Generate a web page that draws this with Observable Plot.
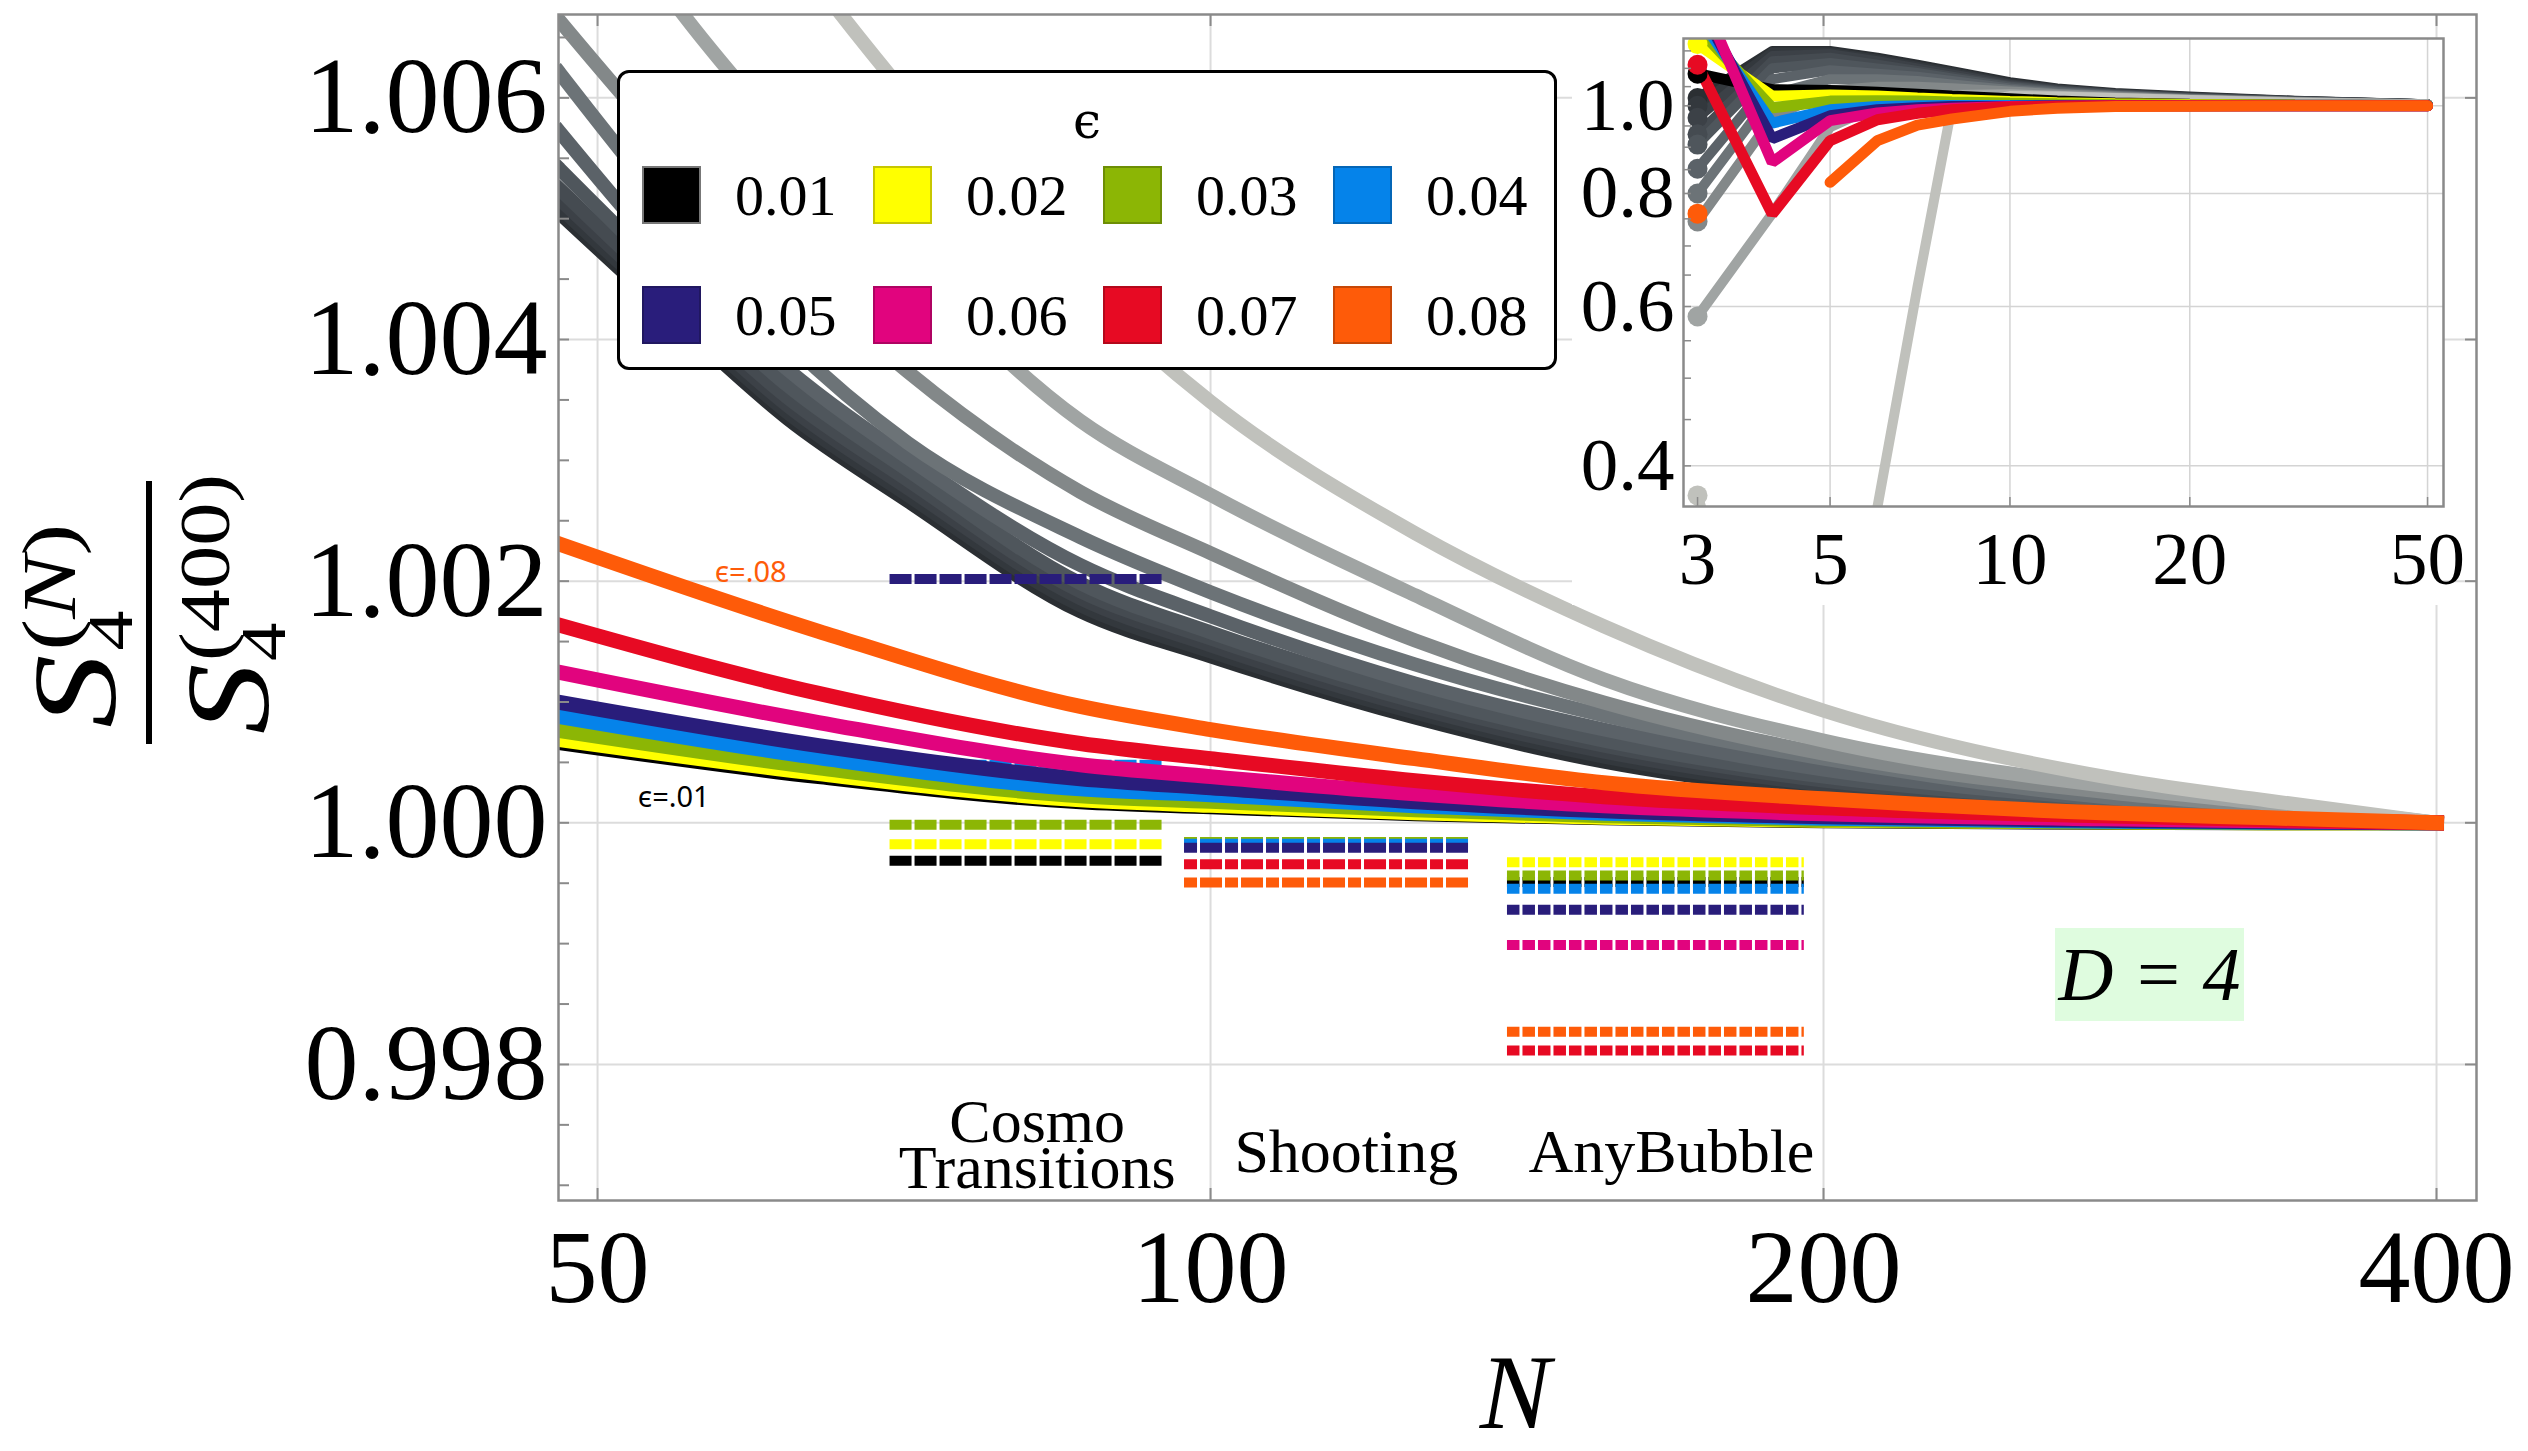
<!DOCTYPE html>
<html><head><meta charset="utf-8">
<script src="https://cdn.jsdelivr.net/npm/d3@7"></script>
<script src="https://cdn.jsdelivr.net/npm/@observablehq/plot@0.6"></script>
<style>
html,body{margin:0;padding:0;background:#fff;}
#wrap{position:relative;width:2528px;height:1451px;overflow:hidden;background:#fff;font-family:"Liberation Serif","Times New Roman",serif;}
#wrap svg{position:absolute;display:block;}
.legend{position:absolute;left:617px;top:70px;width:934px;height:294px;border:3px solid #000;border-radius:12px;background:#fff;}
.legend .ttl{position:absolute;left:0;width:100%;text-align:center;top:18px;font-size:50px;line-height:60px;font-family:"DejaVu Serif","Liberation Serif",serif;}
.legend .sw{position:absolute;width:55px;height:54px;border:2px solid #777;}
.legend .lb{position:absolute;font-size:58px;line-height:58px;}
.dbox{position:absolute;left:2055px;top:928px;width:189px;height:93px;background:#dffcdf;font-style:italic;font-size:76px;line-height:93px;text-align:center;}
.insetbg{position:absolute;left:1572px;top:38px;width:871px;height:567px;background:#fff;}
</style></head>
<body><div id="wrap"></div>
<script>
// ---------- DATA ----------
const epsNames = ["0.01","0.02","0.03","0.04","0.05","0.06","0.07","0.08"];
const epsColors = ["#000000","#FFFF00","#8CB605","#0583EA","#291D7B","#E1047E","#E70A23","#FE5B09"];

// main plot, colored curves  S4(N)/S4(400)
const mainN = [47.9, 64.2, 86.3, 100, 126, 156, 200, 274, 331, 400];
const main001 = [1.000664, 1.000382, 1.000174, 1.000133, 1.000075, 1.000041, 1.000017, 1.000004, 1.0, 1.0];
const main002 = [1.000689, 1.000407, 1.000191, 1.000145, 1.000083, 1.000046, 1.000021, 1.000008, 1.0, 1.0];
const main003 = [1.000763, 1.000456, 1.000224, 1.000178, 1.000108, 1.000058, 1.000025, 1.000008, 1.0, 1.0];
const main004 = [1.000880, 1.000539, 1.000282, 1.000232, 1.000141, 1.000079, 1.000037, 1.000012, 1.000004, 1.0];
const main005 = [1.000996, 1.000639, 1.000365, 1.000290, 1.000174, 1.000100, 1.000050, 1.000021, 1.000008, 1.0];
const main006 = [1.001245, 1.000830, 1.000481, 1.000382, 1.000241, 1.000141, 1.000075, 1.000033, 1.000017, 1.0];
const main007 = [1.001635, 1.001071, 1.000656, 1.000531, 1.000349, 1.000216, 1.000124, 1.000058, 1.000025, 1.0];
const main008 = [1.002307, 1.001585, 1.000963, 1.000772, 1.000531, 1.000332, 1.000199, 1.000083, 1.000041, 1.0];
const mainColored = [main001, main002, main003, main004, main005, main006, main007, main008];

// main plot, gray curves (darkest -> lightest)
const grayN = [47.9, 55, 62, 71, 86.3, 100, 126, 156, 200, 280, 331, 400];
const gray1  = [1.005046, 1.004116, 1.003344, 1.002664, 1.001751, 1.001378, 1.000871, 1.000506, 1.000257, 1.000133, 1.000066, 1.0];
const gray2  = [1.005095, 1.004166, 1.003394, 1.002714, 1.001801, 1.001419, 1.000913, 1.000548, 1.000282, 1.000141, 1.000071, 1.0];
const gray3  = [1.005162, 1.004224, 1.003452, 1.002772, 1.001859, 1.001469, 1.000954, 1.000589, 1.000315, 1.000149, 1.000075, 1.0];
const gray4  = [1.005245, 1.004290, 1.003519, 1.002838, 1.001917, 1.001527, 1.001004, 1.000639, 1.000349, 1.000158, 1.000079, 1.0];
const gray5  = [1.005411, 1.004415, 1.003618, 1.002921, 1.001983, 1.001577, 1.001054, 1.000680, 1.000382, 1.000166, 1.000083, 1.0];
const gray6  = [1.005718, 1.004556, 1.003751, 1.003021, 1.002133, 1.001710, 1.001154, 1.000772, 1.000440, 1.000183, 1.000091, 1.0];
const gray7  = [1.006207, 1.004946, 1.003983, 1.003145, 1.002365, 1.001909, 1.001311, 1.000888, 1.000531, 1.000199, 1.000108, 1.0];
const gray8  = [1.006639, 1.005477, 1.004631, 1.003734, 1.002739, 1.002232, 1.001510, 1.000996, 1.000573, 1.000241, 1.000133, 1.0];
const gray9  = [1.008149, 1.006705, 1.005660, 1.004622, 1.003328, 1.002714, 1.001884, 1.001187, 1.000680, 1.000290, 1.000158, 1.0];
const gray10 = [1.010124, 1.008531, 1.007270, 1.006008, 1.004432, 1.003485, 1.002398, 1.001627, 1.000929, 1.000357, 1.000183, 1.0];
const grayMain = [gray1, gray2, gray3, gray4, gray5, gray6, gray7, gray8, gray9, gray10];
const grayColors = ["#2B2F33","#33383D","#3C4147","#454B51","#4F565C","#5B6268","#6C7377","#838889","#A0A4A3","#C0C1BC"];

// reference values of other codes (dashed)
const cosmoRange = [69.6, 94.7];
const cosmoEps  = ["0.01","0.02","0.03","0.04","0.05"];
const cosmoVals = [0.999685, 0.999823, 0.999983, 1.000481, 1.002017];
const shootRange = [97.1, 134.0];
const shootEps  = ["0.03","0.04","0.05","0.07","0.08"];
const shootVals = [0.999842, 0.999826, 0.999793, 0.999657, 0.999505];
const anyRange = [139.9, 195.7];
const anyEps  = ["0.01","0.02","0.03","0.04","0.05","0.06","0.07","0.08"];
const anyVals = [0.999510, 0.999674, 0.999563, 0.999455, 0.999281, 0.998988, 0.998116, 0.998271];

const methodText = ["Cosmo\nTransitions","Shooting","AnyBubble"];
const methodN = [82.2, 116.6, 168.4];
const methodV = [0.997288, 0.997230, 0.997230];

const tagText = ["\u03f5=.08", "\u03f5=.01"];
const tagN = [59.45, 54.5];
const tagV = [1.002071, 1.000209];
const tagColor = ["#FE5B09", "#000000"];

const xTickVals = [50, 100, 200, 400];
const yTickVals = [0.998, 1.000, 1.002, 1.004, 1.006];
const yMinorTicks = [0.997,0.9975,0.998,0.9985,0.999,0.9995,1.0,1.0005,1.001,1.0015,1.002,1.0025,1.003,1.0035,1.004,1.0045,1.005,1.0055,1.006,1.0065];

// inset
const insetN = [3, 4, 5, 6, 7, 8, 10, 12, 15, 20, 30, 50];
const ins001 = [1.085, 1.042, 1.04, 1.035, 1.03, 1.025, 1.018, 1.012, 1.007, 1.004, 1.002, 1.001];
const ins002 = [1.17, 1.025, 1.028, 1.025, 1.02, 1.016, 1.011, 1.008, 1.005, 1.003, 1.0015, 1.0007];
const ins003 = [1.22, 0.995, 1.012, 1.013, 1.012, 1.01, 1.007, 1.005, 1.003, 1.002, 1.001, 1.0005];
const ins004 = [1.26, 0.957, 0.99, 0.998, 1.0, 1.001, 1.001, 1.001, 1.0005, 1.0003, 1.0002, 1.0001];
const ins005 = [1.30, 0.92, 0.975, 0.99, 0.995, 0.998, 0.999, 1.0, 1.0, 1.0, 1.0, 1.0];
const ins006 = [1.35, 0.866, 0.963, 0.982, 0.99, 0.994, 0.998, 0.999, 1.0, 1.0, 1.0, 1.0];
const ins007 = [1.11, 0.759, 0.915, 0.965, 0.981, 0.99, 0.997, 0.999, 1.0, 1.0, 1.0, 1.0];
const ins008 = [0.76, NaN, 0.823, 0.915, 0.952, 0.967, 0.986, 0.994, 0.998, 0.999, 1.0, 1.0];
const insColored = [ins001, ins002, ins003, ins004, ins005, ins006, ins007, ins008];

const insG1  = [1.02, 1.15, 1.15, 1.13, 1.11, 1.092, 1.062, 1.045, 1.033, 1.024, 1.013, 1.004];
const insG2  = [1.00, 1.145, 1.145, 1.125, 1.105, 1.088, 1.058, 1.043, 1.031, 1.022, 1.012, 1.004];
const insG3  = [0.97, 1.135, 1.14, 1.12, 1.10, 1.083, 1.055, 1.041, 1.03, 1.021, 1.012, 1.004];
const insG4  = [0.93, 1.12, 1.13, 1.11, 1.093, 1.077, 1.052, 1.039, 1.029, 1.02, 1.011, 1.004];
const insG5  = [0.906, 1.10, 1.115, 1.10, 1.087, 1.072, 1.049, 1.037, 1.028, 1.019, 1.011, 1.004];
const insG6  = [0.852, 1.07, 1.095, 1.085, 1.077, 1.065, 1.045, 1.035, 1.026, 1.018, 1.01, 1.004];
const insG7  = [0.80, 1.03, 1.07, 1.07, 1.065, 1.056, 1.041, 1.032, 1.025, 1.017, 1.01, 1.003];
const insG8  = [0.745, 0.97, 1.04, 1.05, 1.05, 1.046, 1.037, 1.03, 1.023, 1.016, 1.009, 1.003];
const insG9  = [0.585, 0.76, 0.947, 1.0, 1.022, 1.028, 1.03, 1.026, 1.021, 1.015, 1.009, 1.003];
const insG10 = [0.371, 0.2, 0.2, 0.36, 0.63, 1.0, 1.025, 1.024, 1.02, 1.015, 1.008, 1.003];
const insGray = [insG1, insG2, insG3, insG4, insG5, insG6, insG7, insG8, insG9, insG10];

const insXTicks = [3, 5, 10, 20, 50];
const insXGrid = [5, 10, 20, 50];
const insYTicks = [0.4, 0.6, 0.8, 1.0];
const insYMinor = [0.4,0.45,0.5,0.55,0.6,0.65,0.7,0.75,0.8,0.85,0.9,0.95,1.0,1.05,1.1,1.15];

// ---------- BUILD ----------
const colorOf = e => epsColors[epsNames.indexOf(e)];
const rows = (N, vals) => N.map((n, i) => ({N: n, v: vals[i]}));
const dashRows = (eps, vals, rng) => eps.map((e, i) => ({v: vals[i], n1: rng[0], n2: rng[1], color: colorOf(e)}));

const wrap = document.getElementById("wrap");
const FW = 2476 - 558, FH = 1200 - 14;

const mainMarks = [
  Plot.gridX(xTickVals, {stroke: "#dcdcdc", strokeOpacity: 1, strokeWidth: 2}),
  Plot.gridY(yTickVals, {stroke: "#dcdcdc", strokeOpacity: 1, strokeWidth: 2}),
  ...grayMain.map((vals, i) => Plot.line(rows(grayN, vals), {x: "N", y: "v", stroke: grayColors[i], strokeWidth: 14, curve: "monotone-x", strokeLinecap: "square", clip: true})),
  Plot.ruleY(dashRows(cosmoEps, cosmoVals, cosmoRange), {y: "v", x1: "n1", x2: "n2", stroke: "color", strokeWidth: 10, strokeDasharray: "22,3"}),
  Plot.ruleY(dashRows(shootEps, shootVals, shootRange), {y: "v", x1: "n1", x2: "n2", stroke: "color", strokeWidth: 10, strokeDasharray: "13,3,22,3"}),
  Plot.ruleY(dashRows(anyEps, anyVals, anyRange), {y: "v", x1: "n1", x2: "n2", stroke: "color", strokeWidth: 10, strokeDasharray: "12.5,3"}),
  ...mainColored.map((vals, i) => Plot.line(rows(mainN, vals), {x: "N", y: "v", stroke: epsColors[i], strokeWidth: 15, curve: "monotone-x", strokeLinecap: "square", clip: true})),
  Plot.text(methodText.map((t, i) => ({t, N: methodN[i], v: methodV[i]})), {x: "N", y: "v", text: "t", fontSize: 62, lineHeight: 0.73, fontFamily: "Liberation Serif", fill: "#000"}),
  Plot.text(tagText.map((t, i) => ({t, N: tagN[i], v: tagV[i], c: tagColor[i]})), {x: "N", y: "v", text: "t", fill: "c", fontSize: 29, fontFamily: "Noto Sans"}),
  Plot.frame({stroke: "#8a8a8a", strokeWidth: 2.5}),
  Plot.tickY(yMinorTicks, {stroke: "#8a8a8a", strokeWidth: 2, insetRight: FW - 11}),
  Plot.tickY(yTickVals, {stroke: "#8a8a8a", strokeWidth: 2, insetLeft: FW - 11}),
  Plot.tickX(xTickVals, {stroke: "#8a8a8a", strokeWidth: 2, insetTop: FH - 12}),
  Plot.tickX(xTickVals, {stroke: "#8a8a8a", strokeWidth: 2, insetBottom: FH - 12}),
  Plot.axisY(yTickVals, {anchor: "left", tickSize: 0, tickPadding: 11, fontSize: 108, fontFamily: "Liberation Serif", tickFormat: d3.format(".3f"), label: null}),
  Plot.axisX(xTickVals, {anchor: "bottom", tickSize: 0, tickPadding: 28, fontSize: 104, fontFamily: "Liberation Serif", tickFormat: d => String(d), label: null})
];

const main = Plot.plot({
  width: 2528, height: 1451,
  marginLeft: 558, marginRight: 52, marginTop: 14, marginBottom: 251,
  style: {background: "white", fontFamily: "Liberation Serif", color: "#000"},
  x: {type: "log", domain: [47.84, 418.5], label: null, axis: null},
  y: {domain: [0.996874, 1.006690], label: null, axis: null},
  color: {type: "identity"},
  marks: mainMarks
});
main.style.left = "0px"; main.style.top = "0px";
wrap.appendChild(main);

// y-axis label (rotated fraction) and x-axis label
const svg = d3.select(main);
const g = svg.append("g").attr("transform", "translate(149,613) rotate(-90)")
  .attr("font-family", "Liberation Serif").attr("fill", "#000").attr("text-anchor", "start");
const num = g.append("g").attr("transform", "scale(1.25,1)");
num.append("text").attr("x", -92).attr("y", -34).attr("font-size", 118).attr("font-style", "italic").text("S");
num.append("text").attr("x", -30).attr("y", -17).attr("font-size", 64).text("4");
const sup1 = num.append("text").attr("x", -30).attr("y", -74).attr("font-size", 76);
sup1.append("tspan").text("(");
sup1.append("tspan").attr("font-style", "italic").text("N");
sup1.append("tspan").text(")");
g.append("line").attr("x1", -131).attr("x2", 132).attr("y1", 0).attr("y2", 0).attr("stroke", "#000").attr("stroke-width", 6);
const den = g.append("g").attr("transform", "scale(1.2,1)");
den.append("text").attr("x", -101).attr("y", 119).attr("font-size", 118).attr("font-style", "italic").text("S");
den.append("text").attr("x", -40).attr("y", 136).attr("font-size", 64).text("4");
den.append("text").attr("x", -40).attr("y", 80).attr("font-size", 72).text("(400)");
svg.append("text").attr("x", 1515).attr("y", 1428).attr("text-anchor", "middle")
  .attr("font-family", "Liberation Serif").attr("font-style", "italic").attr("font-size", 106).attr("fill", "#000").text("N");

// inset background
const bg = document.createElement("div"); bg.className = "insetbg"; wrap.appendChild(bg);

const IW = 760, IH = 468;
const insetMarks = [
  Plot.gridX(insXGrid, {stroke: "#d4d4d4", strokeOpacity: 1, strokeWidth: 1.5}),
  Plot.gridY(insYTicks, {stroke: "#d4d4d4", strokeOpacity: 1, strokeWidth: 1.5}),
  ...insGray.map((vals, i) => Plot.line(rows(insetN, vals), {x: "N", y: "v", stroke: grayColors[i], strokeWidth: 10, strokeLinejoin: "round", clip: true})),
  ...insGray.map((vals, i) => Plot.dot([{N: insetN[0], v: vals[0]}], {x: "N", y: "v", r: 10, fill: grayColors[i], stroke: null, clip: true})),
  ...insColored.map((vals, i) => Plot.line(rows(insetN, vals), {x: "N", y: "v", stroke: epsColors[i], strokeWidth: 11, strokeLinejoin: "miter", clip: true})),
  ...insColored.map((vals, i) => Plot.dot([{N: insetN[0], v: vals[0]}], {x: "N", y: "v", r: 10, fill: epsColors[i], stroke: null, clip: true})),
  Plot.frame({stroke: "#8a8a8a", strokeWidth: 2.5}),
  Plot.tickY(insYMinor, {stroke: "#8a8a8a", strokeWidth: 1.5, insetRight: IW - 8}),
  Plot.tickX(insXTicks, {stroke: "#8a8a8a", strokeWidth: 1.5, insetTop: IH - 9}),
  Plot.axisY(insYTicks, {anchor: "left", tickSize: 0, tickPadding: 9, fontSize: 75, fontFamily: "Liberation Serif", tickFormat: d3.format(".1f"), label: null}),
  Plot.axisX(insXTicks, {anchor: "bottom", tickSize: 0, tickPadding: 24, fontSize: 75, fontFamily: "Liberation Serif", tickFormat: d => String(d), label: null})
];
const inset = Plot.plot({
  width: 904, height: 620,
  marginLeft: 111, marginRight: 33, marginTop: 38, marginBottom: 114,
  style: {background: "transparent", fontFamily: "Liberation Serif", color: "#000", overflow: "visible"},
  x: {type: "log", domain: [2.842, 53.17], label: null, axis: null},
  y: {type: "log", domain: [0.3607, 1.1868], label: null, axis: null},
  marks: insetMarks
});
inset.style.left = "1572px"; inset.style.top = "0px";
wrap.appendChild(inset);

// legend
const lg = document.createElement("div"); lg.className = "legend";
const ttl = document.createElement("div"); ttl.className = "ttl"; ttl.textContent = "\u03f5"; lg.appendChild(ttl);
const colLeft = [22, 253, 483, 713], rowTop = [93, 213];
epsNames.forEach((name, i) => {
  const c = i % 4, r = Math.floor(i / 4);
  const sw = document.createElement("div"); sw.className = "sw";
  sw.style.left = colLeft[c] + "px"; sw.style.top = rowTop[r] + "px";
  sw.style.background = epsColors[i];
  sw.style.borderColor = i === 0 ? "#777" : d3.color(epsColors[i]).darker(0.7).formatHex();
  lg.appendChild(sw);
  const lb = document.createElement("div"); lb.className = "lb";
  lb.style.left = (colLeft[c] + 93) + "px"; lb.style.top = (rowTop[r] + 1) + "px";
  lb.textContent = name;
  lg.appendChild(lb);
});
wrap.appendChild(lg);

// D = 4 tag
const db = document.createElement("div"); db.className = "dbox"; db.textContent = "D = 4"; wrap.appendChild(db);
</script></body></html>
